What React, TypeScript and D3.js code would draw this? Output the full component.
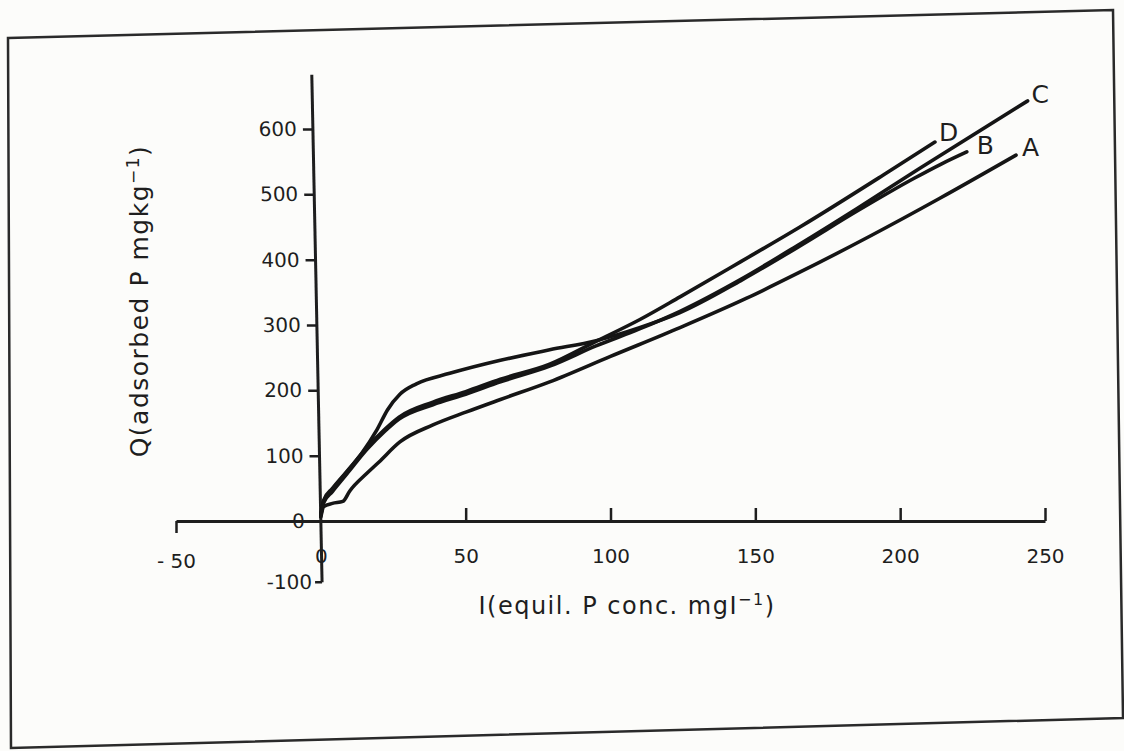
import { useEffect, useRef } from 'react';
import * as d3 from 'd3';

// Q (adsorbed P, mg/kg) against I (equilibrium P conc., mg/l)
const seriesA: [number, number][] = [
  [0, 6], [1, 22], [4, 27], [7.6, 30], [10, 46], [15.9, 73], [20, 90], [27.3, 121],
  [38.7, 147], [50.3, 167], [62, 186], [79, 213], [100, 252], [124, 296], [147, 341],
  [165, 380], [190, 437], [213.7, 494], [240, 560],
];
const seriesB: [number, number][] = [
  [0, 12], [1, 32], [4, 50], [9, 76], [14, 103], [19.3, 139], [23, 170], [27.3, 194],
  [33, 210], [44.5, 226], [62, 246], [79, 262], [95, 276], [110, 296], [124, 319],
  [145, 368], [165.4, 421], [185, 474], [205, 525], [214, 546], [223, 565],
];
const seriesC: [number, number][] = [
  [0, 8], [1, 28], [4, 45], [9, 72], [16, 110], [22, 137], [27, 156], [38.7, 178],
  [50, 194], [62, 213], [79, 237], [95, 268], [110, 294], [124, 321], [145, 370],
  [165.4, 424], [185, 478], [206.8, 540], [244, 643],
];
const seriesD: [number, number][] = [
  [0, 10], [1, 30], [4, 48], [9, 75], [16, 113], [22, 140], [27, 159], [38.7, 182],
  [50, 198], [62, 217], [79, 240], [95, 275], [110, 308], [124, 343], [145, 397],
  [165.4, 450], [195.4, 533], [212, 580],
];
const curveNames = ['A', 'B', 'C', 'D'];
const xTicks = [-50, 0, 50, 100, 150, 200, 250];
const yTicks = [-100, 0, 100, 200, 300, 400, 500, 600];

export default function App() {
  const ref = useRef<SVGSVGElement | null>(null);

  useEffect(() => {
    if (!ref.current) return;
    const W = 1124, H = 751;
    const ink = '#1e1e1e';
    const font = '"DejaVu Sans", sans-serif';

    const svg = d3.select(ref.current);
    svg.selectAll('*').remove();
    svg.attr('width', W).attr('height', H);

    svg.append('rect').attr('width', W).attr('height', H).attr('fill', '#fcfcfa');

    // hand-drawn frame, slightly askew on the scan
    svg.append('path')
      .attr('d', 'M8,38 L1113,10 L1123,718 L11,748 Z')
      .attr('fill', 'none').attr('stroke', '#2a2a2a').attr('stroke-width', 2.5);

    const x = d3.scaleLinear().domain([-50, 250]).range([176, 1045]);
    const y = d3.scaleLinear().domain([0, 600]).range([521, 129]);
    const fmt = (d: number) => (d < 0 ? `-${Math.abs(d)}` : String(d));

    // X axis: ticks point up, the -50 end hooks down
    const gx = svg.append('g')
      .attr('transform', `translate(0,${y(0)})`)
      .call(d3.axisBottom(x).tickValues(xTicks).tickSize(-13).tickSizeOuter(0).tickPadding(28)
        .tickFormat((d) => (d === -50 ? '- 50' : fmt(d as number))));
    gx.select('.domain').attr('stroke', ink).attr('stroke-width', 3);
    gx.selectAll('.tick line').attr('stroke', ink).attr('stroke-width', 2.5);
    gx.selectAll<SVGGElement, number>('.tick').filter((d) => d === -50)
      .select('line').attr('y2', 12);
    gx.selectAll<SVGGElement, number>('.tick').filter((d) => d === 0)
      .select('line').remove();
    gx.selectAll('.tick text')
      .attr('fill', ink).style('font-family', font).style('font-size', '20px');
    gx.selectAll<SVGTextElement, number>('.tick text').filter((d) => d === -50)
      .attr('dy', '0.95em');

    // Y axis, drawn a little off vertical like the original
    const x0 = x(0), y0 = y(0);
    const gy = svg.append('g')
      .attr('transform', `translate(${x0},${y0}) skewX(1.16) translate(0,${-y0})`)
      .call(d3.axisLeft(y).tickValues(yTicks).tickSize(10).tickSizeOuter(0).tickPadding(6)
        .tickFormat((d) => fmt(d as number)));
    gy.select('.domain').remove();
    gy.append('line')
      .attr('y1', y(-100) - 4).attr('y2', y(683))
      .attr('stroke', ink).attr('stroke-width', 3);
    gy.selectAll('.tick line').attr('stroke', ink).attr('stroke-width', 2.5);
    gy.selectAll<SVGGElement, number>('.tick').filter((d) => d === 0)
      .select('line').remove();
    gy.selectAll<SVGGElement, number>('.tick').filter((d) => d === -100)
      .attr('transform', `translate(0,${y(-100) - 4})`)
      .select('line').attr('x2', -7);
    gy.selectAll('.tick text')
      .attr('fill', ink).style('font-family', font).style('font-size', '20px');
    gy.selectAll<SVGTextElement, number>('.tick text').filter((d) => d === -100)
      .attr('x', -10);

    // curves
    const all = [seriesA, seriesB, seriesC, seriesD];
    const line = d3.line<[number, number]>()
      .x((d) => x(d[0]))
      .y((d) => y(d[1]))
      .curve(d3.curveMonotoneX);
    svg.append('g')
      .selectAll('path')
      .data(all)
      .join('path')
      .attr('d', (d) => line(d))
      .attr('fill', 'none')
      .attr('stroke', '#151515')
      .attr('stroke-width', 3.6)
      .attr('stroke-linecap', 'round');

    // end labels
    const labelOffsets: [number, number][] = [[6, 1], [10, 2], [4, 2], [4, -1]];
    svg.append('g')
      .selectAll('text')
      .data(all)
      .join('text')
      .attr('x', (d, i) => x(d[d.length - 1][0]) + labelOffsets[i][0])
      .attr('y', (d, i) => y(d[d.length - 1][1]) + labelOffsets[i][1])
      .attr('fill', ink)
      .style('font-family', font)
      .style('font-size', '25px')
      .text((_, i) => curveNames[i]);

    // axis titles
    const xt = svg.append('text')
      .attr('x', 627).attr('y', 614)
      .attr('text-anchor', 'middle')
      .attr('fill', ink)
      .style('font-family', font).style('font-size', '24px')
      .style('letter-spacing', '1.5px');
    xt.append('tspan').text('I(equil. P conc. mgI');
    xt.append('tspan').attr('dy', -9).style('font-size', '16px').text('−1');
    xt.append('tspan').attr('dy', 9).text(')');

    const yt = svg.append('text')
      .attr('transform', 'translate(148,301) rotate(-90)')
      .attr('text-anchor', 'middle')
      .attr('fill', ink)
      .style('font-family', font).style('font-size', '25px')
      .style('letter-spacing', '1.5px');
    yt.append('tspan').text('Q(adsorbed P mgkg');
    yt.append('tspan').attr('dy', -9).style('font-size', '17px').text('−1');
    yt.append('tspan').attr('dy', 9).text(')');
  }, []);

  return <svg ref={ref} style={{ position: 'absolute', left: 0, top: 0 }}></svg>;
}
